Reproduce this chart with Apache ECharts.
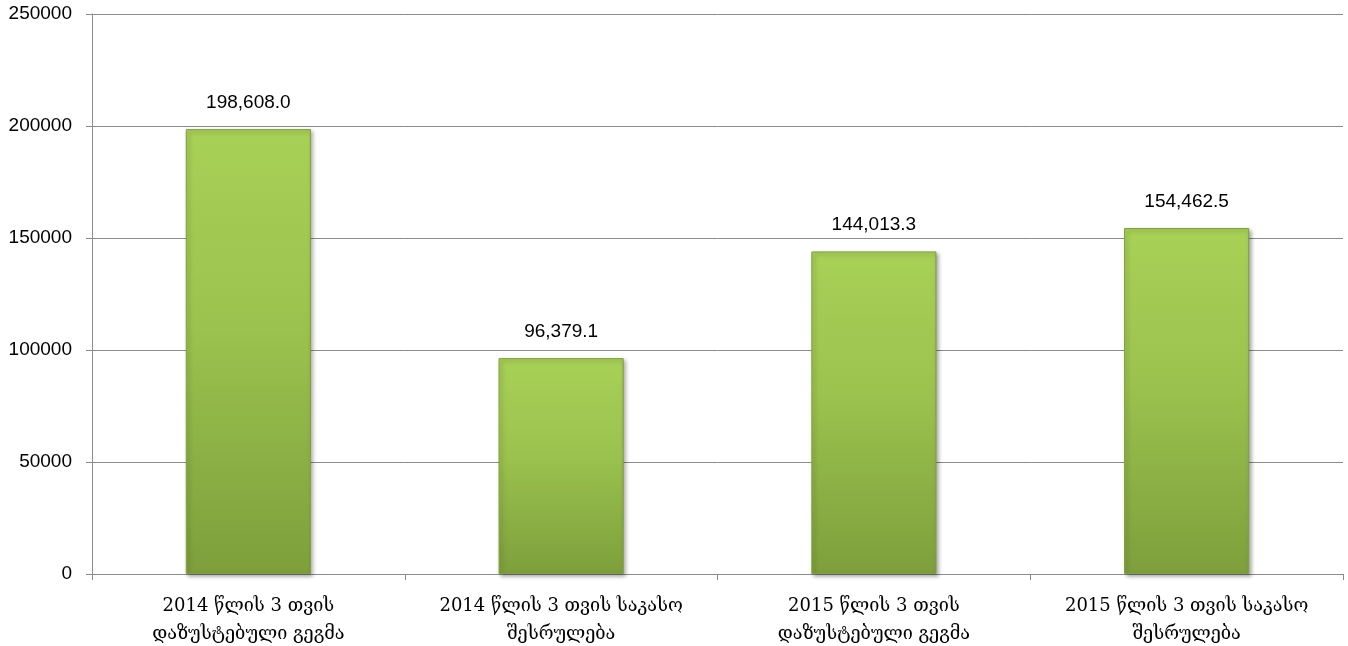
<!DOCTYPE html>
<html>
<head>
<meta charset="utf-8">
<script src="https://cdn.jsdelivr.net/npm/echarts@6/dist/echarts.min.js"></script>
<style>
  html, body { margin: 0; padding: 0; background: #fff; }
  #chart { width: 1348px; height: 646px; }
</style>
</head>
<body>
<div id="chart"></div>
<script>
// Budget figures (thousand GEL): plan vs. cash execution, first 3 months
const categories = [
  '2014 წლის 3 თვის\nდაზუსტებული გეგმა',
  '2014 წლის 3 თვის საკასო\nშესრულება',
  '2015 წლის 3 თვის\nდაზუსტებული გეგმა',
  '2015 წლის 3 თვის საკასო\nშესრულება'
];
const values = [198608.0, 96379.1, 144013.3, 154462.5];
const yTicks = [0, 50000, 100000, 150000, 200000, 250000];

const chart = echarts.init(document.getElementById('chart'), null, { renderer: 'canvas' });

const fmt = v => v.toLocaleString('en-US', { minimumFractionDigits: 1, maximumFractionDigits: 1 });

chart.setOption({
  animation: false,
  grid: { left: 92, right: 5, top: 14, bottom: 72, containLabel: false, outerBoundsMode: 'none' },
  xAxis: {
    type: 'category',
    data: categories,
    axisLine: { lineStyle: { color: '#8c8c8c', width: 1 } },
    axisTick: { show: true, alignWithLabel: false, length: 6, lineStyle: { color: '#8c8c8c' } },
    axisLabel: {
      interval: 0,
      margin: 18,
      color: '#000',
      fontFamily: 'DejaVu Serif',
      fontSize: 18,
      lineHeight: 28,
      align: 'center'
    }
  },
  yAxis: {
    type: 'value',
    min: yTicks[0],
    max: yTicks[yTicks.length - 1],
    interval: yTicks[1] - yTicks[0],
    axisLine: { show: true, lineStyle: { color: '#8c8c8c', width: 1 } },
    axisTick: { show: true, length: 6, lineStyle: { color: '#8c8c8c' } },
    splitLine: { lineStyle: { color: '#8c8c8c', width: 1 } },
    axisLabel: {
      margin: 20,
      color: '#000',
      fontFamily: 'Liberation Sans',
      fontSize: 19,
      formatter: v => String(v)
    }
  },
  series: [{
    type: 'bar',
    data: values,
    barWidth: '40%',
    itemStyle: {
      color: new echarts.graphic.LinearGradient(0, 0, 0, 1, [
        { offset: 0, color: '#a8d157' },
        { offset: 0.45, color: '#9bc24e' },
        { offset: 1, color: '#7e9f3c' }
      ]),
      borderColor: '#819f3e',
      borderWidth: 1,
      shadowColor: 'rgba(0,0,0,0.35)',
      shadowBlur: 4,
      shadowOffsetX: 2,
      shadowOffsetY: 2
    },
    label: {
      show: true,
      position: 'top',
      distance: 17,
      color: '#000',
      fontFamily: 'Liberation Sans',
      fontSize: 19,
      formatter: p => fmt(p.value)
    }
  }]
});
</script>
</body>
</html>
